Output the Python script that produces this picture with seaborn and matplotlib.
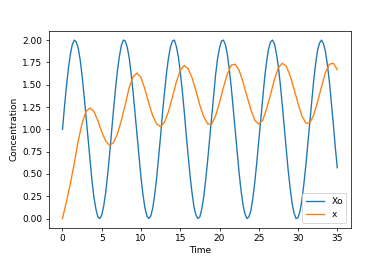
import numpy as np
import pandas as pd
import matplotlib
matplotlib.use("Agg")
import matplotlib.pyplot as plt
import seaborn as sns

# Xo sampled every 0.25 time units
time_xo = np.arange(0, 35.001, 0.25)
xo_values = [
    1.00, 1.25, 1.48, 1.68, 1.84, 1.95, 2.00, 1.98, 1.91, 1.78, 1.60, 1.38,
    1.14, 0.89, 0.65, 0.43, 0.24, 0.11, 0.02, 0.00, 0.04, 0.14, 0.29, 0.49,
    0.72, 0.97, 1.22, 1.45, 1.66, 1.82, 1.94, 2.00, 1.99, 1.92, 1.80, 1.62,
    1.41, 1.17, 0.92, 0.68, 0.46, 0.27, 0.12, 0.03, 0.00, 0.03, 0.12, 0.27,
    0.46, 0.69, 0.93, 1.19, 1.42, 1.63, 1.80, 1.92, 1.99, 2.00, 1.93, 1.82,
    1.65, 1.44, 1.21, 0.95, 0.71, 0.48, 0.29, 0.13, 0.04, 0.00, 0.02, 0.11,
    0.25, 0.44, 0.66, 0.90, 1.15, 1.39, 1.61, 1.79, 1.91, 1.99, 2.00, 1.95,
    1.84, 1.67, 1.47, 1.23, 0.99, 0.74, 0.51, 0.31, 0.15, 0.05, 0.00, 0.02,
    0.09, 0.23, 0.41, 0.63, 0.87, 1.12, 1.36, 1.58, 1.76, 1.90, 1.98, 2.00,
    1.96, 1.85, 1.70, 1.50, 1.27, 1.02, 0.78, 0.54, 0.34, 0.17, 0.06, 0.00,
    0.01, 0.08, 0.21, 0.39, 0.60, 0.84, 1.08, 1.33, 1.55, 1.74, 1.89, 1.97,
    2.00, 1.96, 1.87, 1.72, 1.53, 1.30, 1.06, 0.80, 0.57,
]

# x sampled every 0.5 time units
time_x = np.arange(0, 35.001, 0.5)
x_values = [
    0.00, 0.19, 0.39, 0.62, 0.87, 1.07, 1.20, 1.24, 1.20, 1.10, 0.97, 0.87,
    0.82, 0.85, 0.95, 1.10, 1.28, 1.47, 1.59, 1.63, 1.58, 1.45, 1.29, 1.15,
    1.06, 1.03, 1.08, 1.20, 1.36, 1.53, 1.66, 1.715, 1.68, 1.58, 1.43, 1.27,
    1.14, 1.06, 1.06, 1.15, 1.30, 1.47, 1.62, 1.72, 1.73, 1.66, 1.53, 1.37,
    1.22, 1.10, 1.06, 1.10, 1.23, 1.39, 1.56, 1.69, 1.74, 1.71, 1.60, 1.45,
    1.29, 1.15, 1.07, 1.07, 1.16, 1.31, 1.48, 1.64, 1.73, 1.74, 1.67,
]

series_names = ["Xo", "x"]

fig, ax = plt.subplots(figsize=(6, 4), dpi=65)
fig.subplots_adjust(left=0.125, right=0.9, top=0.88, bottom=0.125)
sns.lineplot(x=time_xo, y=xo_values, label=series_names[0], color="#1f77b4", ax=ax)
sns.lineplot(x=time_x, y=x_values, label=series_names[1], color="#ff7f0e", ax=ax)
ax.set_xlabel("Time")
ax.set_ylabel("Concentration")
ax.legend(loc="lower right")
fig.savefig("out.png", dpi=65)
